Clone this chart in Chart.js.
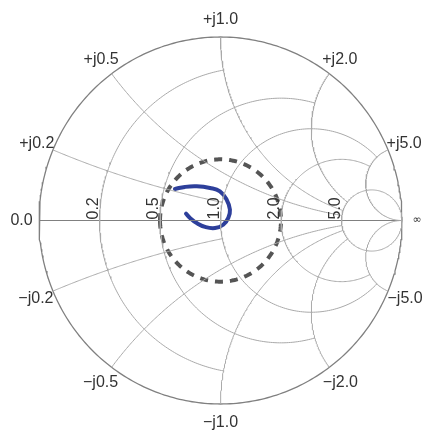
<!DOCTYPE html>
<html>
<head>
<meta charset="utf-8">
<script src="https://cdn.jsdelivr.net/npm/chart.js@4.4.0/dist/chart.umd.min.js"></script>
<style>
  html, body { margin: 0; padding: 0; background: #fff; }
  #wrap { width: 427px; height: 433px; }
</style>
</head>
<body>
<div id="wrap"><canvas id="smith" width="427" height="433"></canvas></div>
<script>
// constant resistance circles, and how far (|x|) each one is drawn
var rValues = [0.2, 0.5, 1.0, 2.0, 5.0];
var rLimits = [1, 2, 5, 5, Infinity];
// constant reactance arcs (+x and -x), and how far (r) each one is drawn
var xValues = [0.2, 0.5, 1.0, 2.0, 5.0];
var xLimits = [1, 5, 5, 5, Infinity];

var rTickLabels = ["0.2", "0.5", "1.0", "2.0", "5.0"];
var xTickLabels = ["0.2", "0.5", "1.0", "2.0", "5.0"];

// measured reflection coefficient, real and imaginary parts
var gammaRe = [-0.251, -0.196, -0.131, -0.058, -0.003, 0.034, 0.052, 0.043, 0.015, -0.030, -0.085, -0.131, -0.168, -0.190];
var gammaIm = [0.172, 0.183, 0.186, 0.177, 0.159, 0.113, 0.059, 0.014, -0.023, -0.041, -0.035, -0.014, 0.014, 0.037];

// VSWR = 2 reference circle
var vswr = 2;

var GRID = "#a9a9a9";
var EDGE = "#808080";

function gamma(r, x) {
  var d = (r + 1) * (r + 1) + x * x;
  return { x: (r * r + x * x - 1) / d, y: 2 * x / d };
}

function arc(cx, cy, rad, t0, t1, n) {
  var pts = [];
  for (var i = 0; i <= n; i++) {
    var t = t0 + (t1 - t0) * i / n;
    pts.push({ x: cx + rad * Math.cos(t), y: cy + rad * Math.sin(t) });
  }
  return pts;
}

function lineSet(data, color, width, dash) {
  return {
    data: data,
    showLine: true,
    pointRadius: 0,
    borderColor: color,
    borderWidth: width,
    borderDash: dash || [],
    fill: false,
    tension: 0,
    clip: false,
  };
}

var datasets = [];

// resistance circles
rValues.forEach(function (r, i) {
  var c = r / (1 + r), a = 1 / (1 + r);
  var t = 0;
  if (isFinite(rLimits[i])) {
    var g = gamma(r, rLimits[i]);
    t = Math.atan2(g.y, g.x - c);
  }
  datasets.push(lineSet(arc(c, 0, a, t, 2 * Math.PI - t, 200), GRID, 1));
});

// reactance arcs
xValues.forEach(function (xv, i) {
  [1, -1].forEach(function (s) {
    var x = xv * s;
    var cy = 1 / x, rad = 1 / xv;
    var g0 = gamma(0, x);
    var g1 = isFinite(xLimits[i]) ? gamma(xLimits[i], x) : { x: 1, y: 0 };
    var t0 = Math.atan2(g0.y - cy, g0.x - 1);
    var t1 = Math.atan2(g1.y - cy, g1.x - 1);
    var d = t1 - t0;
    while (d > Math.PI) d -= 2 * Math.PI;
    while (d < -Math.PI) d += 2 * Math.PI;
    datasets.push(lineSet(arc(1, cy, rad, t0, t0 + d, 150), GRID, 1));
  });
});

// real axis and outer circle
datasets.push(lineSet([{ x: -1, y: 0 }, { x: 1, y: 0 }], EDGE, 1));
datasets.push(lineSet(arc(0, 0, 1, 0, 2 * Math.PI, 360), EDGE, 1.3));

// VSWR circle
var rho = (vswr - 1) / (vswr + 1);
var vs = lineSet(arc(0, 0, rho, Math.PI, 3 * Math.PI, 240), "#555555", 4, [8, 7]);
datasets.push(vs);

// measured trace
var trace = gammaRe.map(function (v, i) { return { x: v, y: gammaIm[i] }; });
var tr = lineSet(trace, "#2d3f9b", 4);
tr.tension = 0.45;
tr.borderCapStyle = "round";
datasets.push(tr);

var labelPlugin = {
  id: "smithLabels",
  afterDatasetsDraw: function (chart) {
    var ctx = chart.ctx, sx = chart.scales.x, sy = chart.scales.y;
    var cx = sx.getPixelForValue(0), cy = sy.getPixelForValue(0);
    ctx.save();
    ctx.fillStyle = "#333";
    ctx.font = "16px 'Liberation Sans', Arial, sans-serif";
    ctx.textAlign = "center";
    ctx.textBaseline = "middle";
    function edge(g, text, off) {
      var px = sx.getPixelForValue(g.x), py = sy.getPixelForValue(g.y);
      var dx = px - cx, dy = py - cy, len = Math.sqrt(dx * dx + dy * dy);
      ctx.fillText(text, px + dx / len * off, py + dy / len * off);
    }
    xValues.forEach(function (xv, i) {
      edge(gamma(0, xv), "+j" + xTickLabels[i], 17.5);
      edge(gamma(0, -xv), "\u2212j" + xTickLabels[i], 18.5);
    });
    edge({ x: -1, y: 0 }, "0.0", 17.5);
    ctx.font = "11px 'DejaVu Sans', sans-serif";
    edge({ x: 1, y: 0 }, "\u221e", 15);

    ctx.font = "16px 'Liberation Sans', Arial, sans-serif";
    ctx.textAlign = "left";
    ctx.textBaseline = "alphabetic";
    rValues.forEach(function (r, i) {
      var px = sx.getPixelForValue((r - 1) / (r + 1));
      ctx.save();
      ctx.translate(px - 2, cy - 1);
      ctx.rotate(-Math.PI / 2);
      ctx.fillText(rTickLabels[i], 0, 0);
      ctx.restore();
    });
    ctx.restore();
  },
};

new Chart(document.getElementById("smith"), {
  type: "scatter",
  data: { datasets: datasets },
  options: {
    responsive: false,
    animation: false,
    events: [],
    layout: { padding: { left: 39, right: 25, top: 37, bottom: 29 } },
    scales: {
      x: { type: "linear", min: -1, max: 1, display: false },
      y: { type: "linear", min: -1, max: 1, display: false },
    },
    plugins: { legend: { display: false }, tooltip: { enabled: false } },
  },
  plugins: [labelPlugin],
});
</script>
</body>
</html>
